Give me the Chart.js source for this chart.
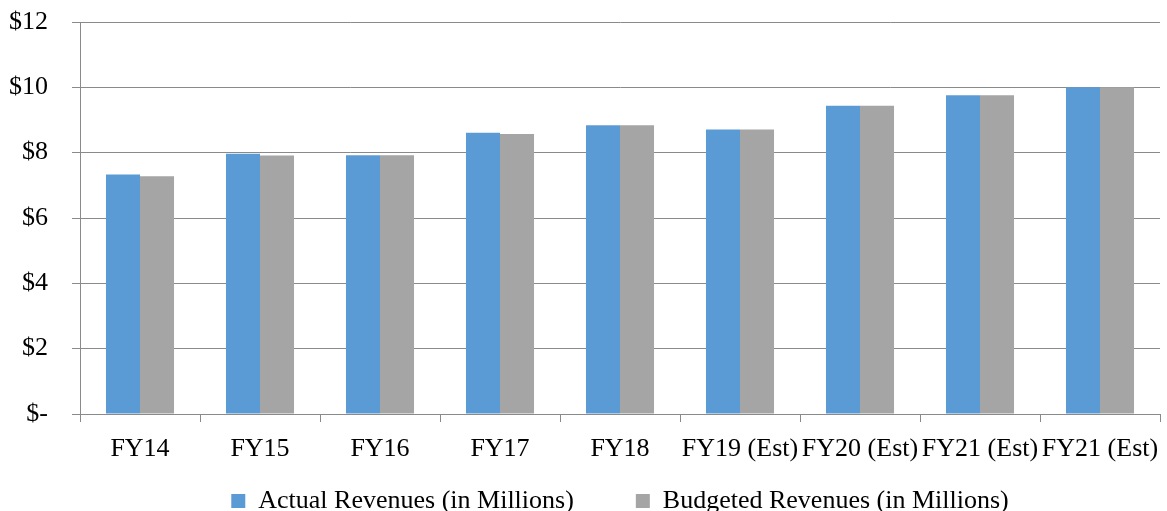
<!DOCTYPE html>
<html>
<head>
<meta charset="utf-8">
<script src="https://cdn.jsdelivr.net/npm/chart.js@4.4.1/dist/chart.umd.min.js"></script>
<style>
    html, body { margin: 0; padding: 0; background: #fff; }
    #wrap { width: 1167px; height: 511px; }
</style>
</head>
<body>
<div id="wrap"><canvas id="revChart" width="1167" height="511"></canvas></div>
<script>
// dados
const categorias = ['FY14', 'FY15', 'FY16', 'FY17', 'FY18', 'FY19 (Est)', 'FY20 (Est)', 'FY21 (Est)', 'FY21 (Est)'];
const receitaReal = [7.33, 7.97, 7.92, 8.61, 8.84, 8.71, 9.44, 9.76, 10.0];
const receitaOrcada = [7.28, 7.91, 7.92, 8.57, 8.84, 8.71, 9.44, 9.76, 10.0];
const ticksY = [0, 2, 4, 6, 8, 10, 12];

const fonte = { family: "'Liberation Serif', 'DejaVu Serif', serif", size: 26 };
const corGrade = '#8a8a8a';

// posiciona a legenda centrada sob a área do gráfico (como no Excel)
const legendaPlugin = {
    id: 'legendaPos',
    afterLayout: (chart) => {
        const lg = chart.legend;
        const pad = lg.options.labels.padding;
        lg.left = chart.chartArea.left;
        lg.right = chart.chartArea.right;
        lg.top = 488 - pad;
        lg.bottom = chart.height; // senão o clip da legenda corta o texto
        lg.height = lg.bottom - lg.top;
    }
};

const ctx = document.getElementById('revChart').getContext('2d');
new Chart(ctx, {
    type: 'bar',
    data: {
        labels: categorias,
        datasets: [
            { label: 'Actual Revenues (in Millions)', data: receitaReal, backgroundColor: '#5B9BD5' },
            { label: 'Budgeted Revenues (in Millions)', data: receitaOrcada, backgroundColor: '#A5A5A5' }
        ]
    },
    options: {
        responsive: false,
        animation: false,
        devicePixelRatio: 1,
        layout: { padding: { top: 22, left: 9, right: 7, bottom: 5 } },
        datasets: { bar: { categoryPercentage: 0.567, barPercentage: 1.0 } },
        scales: {
            x: {
                afterFit: (axis) => { axis.height = 52; axis.paddingLeft = 0; axis.paddingRight = 0; },
                grid: { drawOnChartArea: false, drawTicks: true, tickLength: 8, color: corGrade, offset: true },
                border: { color: corGrade },
                ticks: { color: '#000', font: fonte, autoSkip: false, maxRotation: 0, padding: 12 }
            },
            y: {
                min: 0,
                max: 12,
                afterBuildTicks: (axis) => { axis.ticks = ticksY.map((v) => ({ value: v })); },
                // largura fixa (eixo em x=80) e sem folga extra em cima/embaixo
                afterFit: (axis) => { axis.width = 71; axis.paddingTop = 16; axis.paddingBottom = 16; },
                grid: { color: corGrade, tickLength: 8 },
                border: { color: corGrade },
                ticks: {
                    color: '#000',
                    font: fonte,
                    padding: 24,
                    callback: (v) => (v === 0 ? '$-' : '$' + v)
                }
            }
        },
        plugins: {
            legend: {
                position: 'bottom',
                maxHeight: 40,
                labels: { color: '#000', font: fonte, boxWidth: 14, boxHeight: 14, padding: 62 }
            },
            tooltip: { enabled: false }
        }
    },
    plugins: [legendaPlugin]
});
</script>
</body>
</html>
